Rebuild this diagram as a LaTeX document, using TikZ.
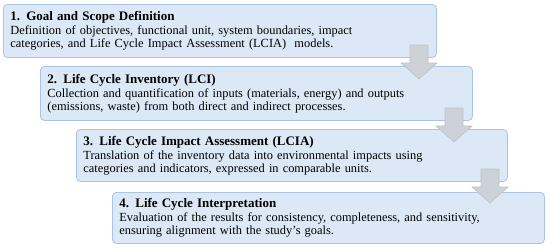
\documentclass[tikz,border=0pt]{standalone}
\usepackage{fontspec}
\setmainfont{Liberation Serif}
\usepackage{xcolor}
\usepackage{tikz}

\definecolor{stagefill}{RGB}{220,232,246}
\definecolor{stageline}{RGB}{168,197,230}
\definecolor{arrowfill}{RGB}{205,210,217}
\definecolor{arrowline}{RGB}{188,194,202}

\newcommand{\stagetitle}[1]{{\fontsize{13}{15}\selectfont\bfseries #1}\\[1.5pt]}
\newcommand{\stagearrow}[1]{%
  \draw[flowarrow] ([xshift=-9pt]#1) -- ++(0,18) -- ++(-9,0) -- ([yshift=-34pt]#1)
    -- ([xshift=18pt,yshift=-18pt]#1) -- ++(-9,0) -- ([xshift=9pt]#1) -- cycle;}

\begin{document}
\begin{tikzpicture}[x=1pt,y=-1pt,
  stage/.style={draw=stageline, fill=stagefill, line width=0.8pt, rounded corners=4pt,
    anchor=north west, align=left, inner xsep=7pt, inner ysep=2pt,
    font=\fontsize{12.4}{12.8}\selectfont},
  flowarrow/.style={draw=arrowline, fill=arrowfill, line width=0.6pt}]
  \useasboundingbox (0,0) rectangle (550,250);

  \node[stage, text width=419pt, minimum height=53pt] (goal) at (3,4)
    {\stagetitle{1. Goal and Scope Definition}Definition of objectives, functional unit, system boundaries, impact\\categories, and Life Cycle Impact Assessment (LCIA)\ \ models.};
  \node[stage, text width=418pt, minimum height=54pt] (lci) at (40,66)
    {\stagetitle{2. Life Cycle Inventory (LCI)}Collection and quantification of inputs (materials, energy) and outputs\\(emissions, waste) from both direct and indirect processes.};
  \node[stage, text width=417pt, minimum height=52pt] (lcia) at (76,129)
    {\stagetitle{3. Life Cycle Impact Assessment (LCIA)}Translation of the inventory data into environmental impacts using\\categories and indicators, expressed in comparable units.};
  \node[stage, text width=418pt, minimum height=51pt] (interp) at (112,192)
    {\stagetitle{4. Life Cycle Interpretation}Evaluation of the results for consistency, completeness, and sensitivity,\\ensuring alignment with the study's goals.};

  \coordinate (a1) at (419,45);
  \coordinate (a2) at (454,108);
  \coordinate (a3) at (490,169);
  \stagearrow{a1}
  \stagearrow{a2}
  \stagearrow{a3}
\end{tikzpicture}
\end{document}
